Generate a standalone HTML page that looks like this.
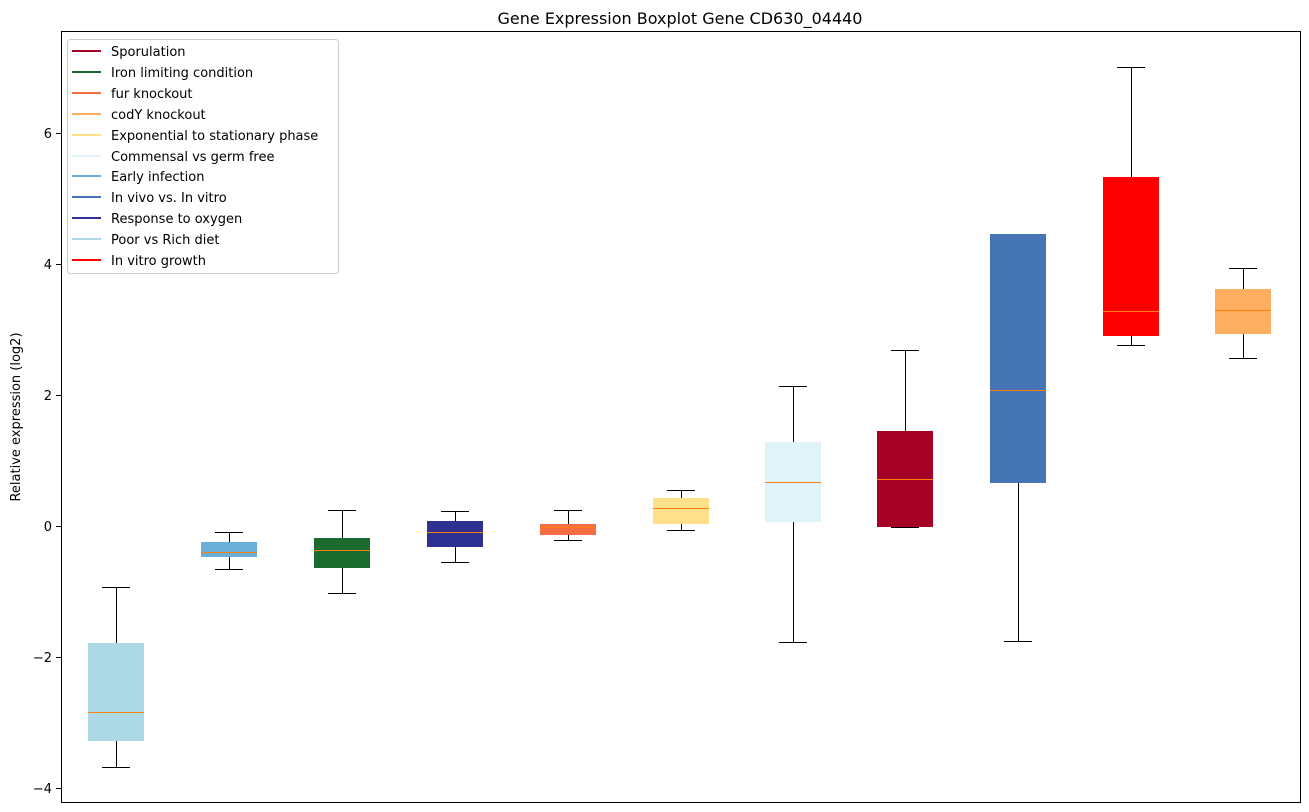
<!DOCTYPE html>
<html><head><style>body{margin:0;background:#fff}svg{display:block;font-family:"DejaVu Sans","Liberation Sans",sans-serif}</style></head><body>
<svg width="1309" height="812" xmlns="http://www.w3.org/2000/svg">
<rect width="1309" height="812" fill="#fff"/>
<text x="680" y="24" font-size="16" text-anchor="middle">Gene Expression Boxplot Gene CD630_04440</text>
<text transform="translate(20,417) rotate(-90)" font-size="13" text-anchor="middle">Relative expression (log2)</text>
<g font-size="13" text-anchor="end" shape-rendering="crispEdges">
<line x1="56" x2="61" y1="133.5" y2="133.5" stroke="#000"/><text x="52" y="138">6</text>
<line x1="56" x2="61" y1="264.5" y2="264.5" stroke="#000"/><text x="52" y="269">4</text>
<line x1="56" x2="61" y1="395.5" y2="395.5" stroke="#000"/><text x="52" y="400">2</text>
<line x1="56" x2="61" y1="526.5" y2="526.5" stroke="#000"/><text x="52" y="531">0</text>
<line x1="56" x2="61" y1="657.5" y2="657.5" stroke="#000"/><text x="52" y="662">−2</text>
<line x1="56" x2="61" y1="788.5" y2="788.5" stroke="#000"/><text x="52" y="793">−4</text>
</g>
<g stroke="#000" stroke-width="1" shape-rendering="crispEdges">
<line x1="116.5" x2="116.5" y1="587" y2="767"/><line x1="102" x2="130" y1="587.5" y2="587.5"/><line x1="102" x2="130" y1="767.5" y2="767.5"/>
<rect x="88" y="643" width="56" height="98" fill="#add8e6" stroke="none"/>
<line x1="229.5" x2="229.5" y1="532" y2="569"/><line x1="215" x2="243" y1="532.5" y2="532.5"/><line x1="215" x2="243" y1="569.5" y2="569.5"/>
<rect x="201" y="542" width="56" height="15" fill="#6baed6" stroke="none"/>
<line x1="342.5" x2="342.5" y1="510" y2="593"/><line x1="328" x2="356" y1="510.5" y2="510.5"/><line x1="328" x2="356" y1="593.5" y2="593.5"/>
<rect x="314" y="538" width="56" height="30" fill="#1a6b2d" stroke="none"/>
<line x1="455.5" x2="455.5" y1="511" y2="562"/><line x1="441" x2="469" y1="511.5" y2="511.5"/><line x1="441" x2="469" y1="562.5" y2="562.5"/>
<rect x="427" y="521" width="56" height="26" fill="#2e3192" stroke="none"/>
<line x1="568.5" x2="568.5" y1="510" y2="540"/><line x1="554" x2="582" y1="510.5" y2="510.5"/><line x1="554" x2="582" y1="540.5" y2="540.5"/>
<rect x="540" y="524" width="56" height="11" fill="#f46d43" stroke="none"/>
<line x1="681.5" x2="681.5" y1="490" y2="530"/><line x1="667" x2="695" y1="490.5" y2="490.5"/><line x1="667" x2="695" y1="530.5" y2="530.5"/>
<rect x="653" y="498" width="56" height="26" fill="#fee08b" stroke="none"/>
<line x1="793.5" x2="793.5" y1="386" y2="642"/><line x1="779" x2="807" y1="386.5" y2="386.5"/><line x1="779" x2="807" y1="642.5" y2="642.5"/>
<rect x="765" y="442" width="56" height="80" fill="#e0f3f8" stroke="none"/>
<line x1="905.5" x2="905.5" y1="350" y2="527"/><line x1="891" x2="919" y1="350.5" y2="350.5"/><line x1="891" x2="919" y1="527.5" y2="527.5"/>
<rect x="877" y="431" width="56" height="96" fill="#a50026" stroke="none"/>
<line x1="1018.5" x2="1018.5" y1="234" y2="641"/><line x1="1004" x2="1032" y1="234.5" y2="234.5"/><line x1="1004" x2="1032" y1="641.5" y2="641.5"/>
<rect x="990" y="234" width="56" height="249" fill="#4575b4" stroke="none"/>
<line x1="1131.5" x2="1131.5" y1="67" y2="345"/><line x1="1117" x2="1145" y1="67.5" y2="67.5"/><line x1="1117" x2="1145" y1="345.5" y2="345.5"/>
<rect x="1103" y="177" width="56" height="159" fill="#ff0000" stroke="none"/>
<line x1="1243.5" x2="1243.5" y1="268" y2="358"/><line x1="1229" x2="1257" y1="268.5" y2="268.5"/><line x1="1229" x2="1257" y1="358.5" y2="358.5"/>
<rect x="1215" y="289" width="56" height="45" fill="#fdae61" stroke="none"/>
</g>
<g stroke="#ff7f0e" stroke-width="1" shape-rendering="crispEdges">
<line x1="88" x2="144" y1="712.5" y2="712.5"/><line x1="201" x2="257" y1="552.5" y2="552.5"/><line x1="314" x2="370" y1="550.5" y2="550.5"/>
<line x1="427" x2="483" y1="532.5" y2="532.5"/><line x1="540" x2="596" y1="527.5" y2="527.5"/><line x1="653" x2="709" y1="508.5" y2="508.5"/>
<line x1="765" x2="821" y1="482.5" y2="482.5"/><line x1="877" x2="933" y1="479.5" y2="479.5"/><line x1="990" x2="1046" y1="390.5" y2="390.5"/>
<line x1="1103" x2="1159" y1="311.5" y2="311.5"/><line x1="1215" x2="1271" y1="310.5" y2="310.5"/>
</g>
<rect x="61.5" y="31.5" width="1239" height="771" fill="none" stroke="#000" shape-rendering="crispEdges"/>
<rect x="67.5" y="39.5" width="271" height="234" rx="3" fill="#fff" fill-opacity="0.8" stroke="#ccc"/>
<g font-size="13" stroke-width="2">
<line x1="72" x2="101" y1="51" y2="51" stroke="#a50026"/><text x="111" y="56">Sporulation</text>
<line x1="72" x2="101" y1="72" y2="72" stroke="#1a6b2d"/><text x="111" y="77">Iron limiting condition</text>
<line x1="72" x2="101" y1="93" y2="93" stroke="#f46d43"/><text x="111" y="98">fur knockout</text>
<line x1="72" x2="101" y1="114" y2="114" stroke="#fdae61"/><text x="111" y="119">codY knockout</text>
<line x1="72" x2="101" y1="135" y2="135" stroke="#fee08b"/><text x="111" y="140">Exponential to stationary phase</text>
<line x1="72" x2="101" y1="156" y2="156" stroke="#e0f3f8"/><text x="111" y="161">Commensal vs germ free</text>
<line x1="72" x2="101" y1="176" y2="176" stroke="#6baed6"/><text x="111" y="181">Early infection</text>
<line x1="72" x2="101" y1="197" y2="197" stroke="#4575b4"/><text x="111" y="202">In vivo vs. In vitro</text>
<line x1="72" x2="101" y1="218" y2="218" stroke="#2e3192"/><text x="111" y="223">Response to oxygen</text>
<line x1="72" x2="101" y1="239" y2="239" stroke="#add8e6"/><text x="111" y="244">Poor vs Rich diet</text>
<line x1="72" x2="101" y1="260" y2="260" stroke="#ff0000"/><text x="111" y="265">In vitro growth</text>
</g>
</svg>
</body></html>
